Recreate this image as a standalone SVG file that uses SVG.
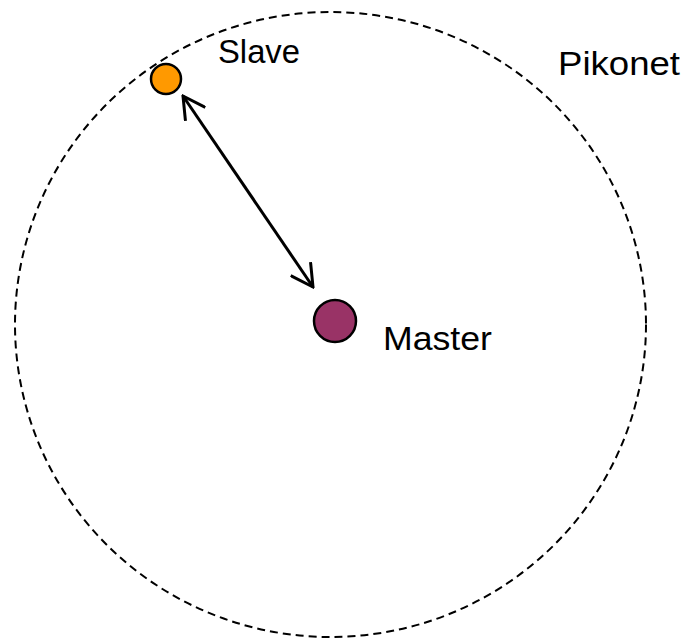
<svg xmlns="http://www.w3.org/2000/svg" width="684" height="640" viewBox="0 0 684 640">
  <style>
    .lbl { font-family: "Liberation Sans", Arial, sans-serif; font-size: 34px; fill: #000; }
    .node { stroke: #000; stroke-width: 2.5; }
  </style>
  <defs>
    <marker id="open" viewBox="0 0 26 26" refX="24" refY="13" markerWidth="26" markerHeight="26" markerUnits="userSpaceOnUse" orient="auto-start-reverse">
      <path d="M2,1 L24,13 L2,25" fill="none" stroke="#000" stroke-width="3" stroke-linejoin="miter"/>
    </marker>
  </defs>
  <rect width="684" height="640" fill="#fff"/>
  <g id="pikonet">
    <ellipse cx="330.5" cy="324.5" rx="315.5" ry="312.5" fill="none" stroke="#000" stroke-width="2" stroke-dasharray="8,5"/>
    <text class="lbl" x="558" y="75" textLength="122" lengthAdjust="spacingAndGlyphs">Pikonet</text>
  </g>
  <g id="connectors">
    <line x1="183" y1="96" x2="313" y2="287" stroke="#000" stroke-width="3" marker-start="url(#open)" marker-end="url(#open)"/>
  </g>
  <g id="slave">
    <circle class="node" cx="166" cy="79" r="15" fill="#ff9900"/>
    <text class="lbl" x="218" y="63" textLength="82" lengthAdjust="spacingAndGlyphs">Slave</text>
  </g>
  <g id="master">
    <circle class="node" cx="335" cy="321" r="21" fill="#993366"/>
    <text class="lbl" x="383" y="350" textLength="109" lengthAdjust="spacingAndGlyphs">Master</text>
  </g>
</svg>
